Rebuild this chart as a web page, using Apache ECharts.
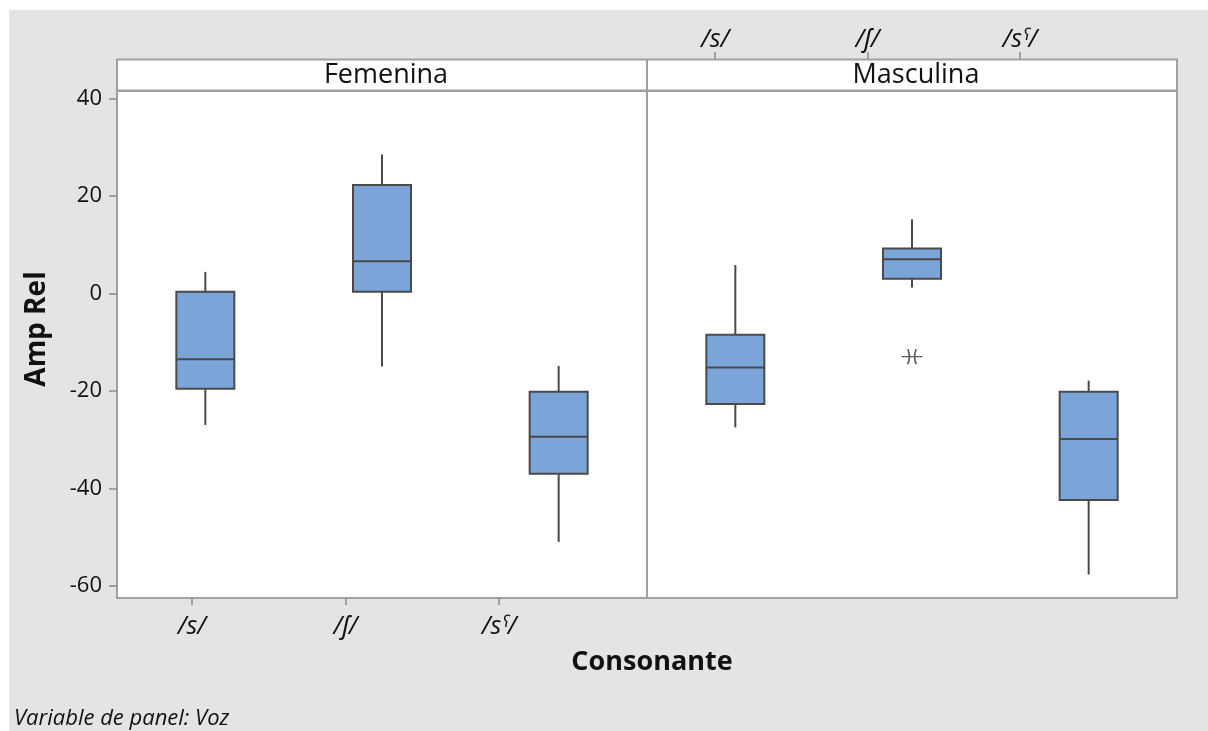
<!DOCTYPE html>
<html>
<head>
<meta charset="utf-8">
<script src="https://cdn.jsdelivr.net/npm/echarts@6/dist/echarts.min.js"></script>
<style>
html,body{margin:0;padding:0;background:#fff;}
#chart{width:1208px;height:731px;}
</style>
</head>
<body>
<div id="chart"></div>
<script>
// ---- data ----
const categories = ['/s/', '/ʃ/', '/sˤ/'];
const panels = ['Femenina', 'Masculina'];
// [min, Q1, median, Q3, max]
const femeninaBoxes = [
  [-27.0, -19.6, -13.5, 0.3, 4.4],
  [-15.0, 0.3, 6.6, 22.2, 28.5],
  [-51.0, -37.0, -29.4, -20.2, -14.9]
];
const masculinaBoxes = [
  [-27.5, -22.7, -15.2, -8.5, 5.8],
  [1.2, 3.0, 7.0, 9.2, 15.2],
  [-57.7, -42.4, -29.9, -20.2, -17.9]
];
const masculinaOutliers = [['/ʃ/', -13.0]];
const yTicks = [-60, -40, -20, 0, 20, 40];
const yRange = [-62.5, 41.5];

const FONT = "'Open Sans','Noto Sans','DejaVu Sans',sans-serif";
const BOX_FILL = '#7BA5D8';
const BOX_LINE = '#4a4a4a';
const FRAME = '#a0a0a0';
const TEXT = '#111111';
const BOX_W = 58;

const chart = echarts.init(document.getElementById('chart'), null, {renderer: 'canvas'});

function hiddenX(grid) {
  return {gridIndex: grid, type: 'category', data: categories, boundaryGap: true,
    axisLine: {show: false}, axisTick: {show: false}, axisLabel: {show: false}, splitLine: {show: false}};
}
function hiddenY(grid) {
  return {gridIndex: grid, type: 'value', min: yRange[0], max: yRange[1],
    axisLine: {show: false}, axisTick: {show: false}, axisLabel: {show: false}, splitLine: {show: false}};
}
function labelX(grid, pos, margin) {
  return {gridIndex: grid, type: 'category', data: categories, position: pos, boundaryGap: true,
    axisLine: {show: false, onZero: false},
    axisTick: {show: true, alignWithLabel: true, length: 7, lineStyle: {color: '#8a8a8a', width: 1.5}},
    axisLabel: {show: true, margin: margin, fontFamily: FONT, fontStyle: 'italic', fontSize: 25, color: TEXT},
    splitLine: {show: false}};
}

function renderBox(params, api) {
  const x = api.value(0);
  const pMin = api.coord([x, api.value(1)]);
  const pQ1 = api.coord([x, api.value(2)]);
  const pMed = api.coord([x, api.value(3)]);
  const pQ3 = api.coord([x, api.value(4)]);
  const pMax = api.coord([x, api.value(5)]);
  const cx = pMed[0];
  const half = BOX_W / 2;
  const lineStyle = {stroke: BOX_LINE, lineWidth: 2};
  return {
    type: 'group',
    children: [
      {type: 'line', shape: {x1: cx, y1: pMax[1], x2: cx, y2: pQ3[1]}, style: lineStyle},
      {type: 'line', shape: {x1: cx, y1: pQ1[1], x2: cx, y2: pMin[1]}, style: lineStyle},
      {type: 'rect', shape: {x: cx - half, y: pQ3[1], width: BOX_W, height: pQ1[1] - pQ3[1]},
        style: {fill: BOX_FILL, stroke: BOX_LINE, lineWidth: 2}},
      {type: 'line', shape: {x1: cx - half, y1: pMed[1], x2: cx + half, y2: pMed[1]}, style: lineStyle}
    ]
  };
}

const option = {
  backgroundColor: '#e4e4e4',
  animation: false,
  title: [
    {text: panels[0], left: 381, top: 57, textAlign: 'center',
      textStyle: {fontFamily: FONT, fontSize: 27, fontWeight: 'normal', color: TEXT}},
    {text: panels[1], left: 911, top: 57, textAlign: 'center',
      textStyle: {fontFamily: FONT, fontSize: 27, fontWeight: 'normal', color: TEXT}},
    {text: 'Consonante', left: 647, top: 644, textAlign: 'center',
      textStyle: {fontFamily: FONT, fontSize: 27, fontWeight: 'bold', color: TEXT}},
    {text: 'Variable de panel: Voz', left: 9, top: 703,
      textStyle: {fontFamily: FONT, fontSize: 22, fontWeight: 'normal', fontStyle: 'italic', color: TEXT}}
  ],
  graphic: [
    {type: 'rect', left: 0, top: 0, shape: {width: 1208, height: 10}, style: {fill: '#fff'}, silent: true},
    {type: 'rect', left: 0, top: 0, shape: {width: 9, height: 731}, style: {fill: '#fff'}, silent: true},
    {type: 'rect', shape: {x: 117, y: 59.5, width: 1060, height: 31}, style: {fill: '#fff', stroke: FRAME, lineWidth: 2}, silent: true, z: -1},
    {type: 'line', shape: {x1: 647, y1: 59.5, x2: 647, y2: 91}, style: {stroke: FRAME, lineWidth: 2}, silent: true},
    {type: 'text', x: 37, y: 329, rotation: Math.PI / 2, silent: true,
      style: {text: 'Amp Rel', fontFamily: FONT, fontSize: 28, fontWeight: 'bold', fill: TEXT, align: 'center', verticalAlign: 'middle'}}
  ],
  grid: [
    {left: 117, top: 91, width: 530, height: 507, show: true, backgroundColor: '#fff', borderColor: FRAME, borderWidth: 2},
    {left: 647, top: 91, width: 530, height: 507, show: true, backgroundColor: '#fff', borderColor: FRAME, borderWidth: 2},
    {left: 115, top: 91, width: 461, height: 507, show: false},
    {left: 639, top: 59, width: 457, height: 539, show: false}
  ],
  xAxis: [hiddenX(0), hiddenX(1), labelX(2, 'bottom', 16), labelX(3, 'top', 7)],
  yAxis: [
    {gridIndex: 0, type: 'value', min: yRange[0], max: yRange[1],
      axisLine: {show: false},
      axisTick: {show: true, length: 8, customValues: yTicks, lineStyle: {color: '#8a8a8a', width: 1.5}},
      axisLabel: {show: true, margin: 15, customValues: yTicks, fontFamily: FONT, fontSize: 22, color: TEXT},
      splitLine: {show: false}},
    hiddenY(1), hiddenY(2), hiddenY(3)
  ],
  series: [
    {type: 'custom', xAxisIndex: 0, yAxisIndex: 0, renderItem: renderBox,
      encode: {x: 0, y: [1, 2, 3, 4, 5]},
      data: femeninaBoxes.map((b, i) => [i].concat(b))},
    {type: 'custom', xAxisIndex: 1, yAxisIndex: 1, renderItem: renderBox,
      encode: {x: 0, y: [1, 2, 3, 4, 5]},
      data: masculinaBoxes.map((b, i) => [i].concat(b))},
    {type: 'scatter', xAxisIndex: 1, yAxisIndex: 1, data: masculinaOutliers,
      symbol: 'path://M0,7L20,7M6,0Q9,7,6,14M14,0Q11,7,14,14', symbolSize: [21, 15],
      itemStyle: {color: 'rgba(0,0,0,0)', borderColor: '#333', borderWidth: 1.4}, emphasis: {disabled: true}}
  ]
};
chart.setOption(option);
</script>
</body>
</html>
